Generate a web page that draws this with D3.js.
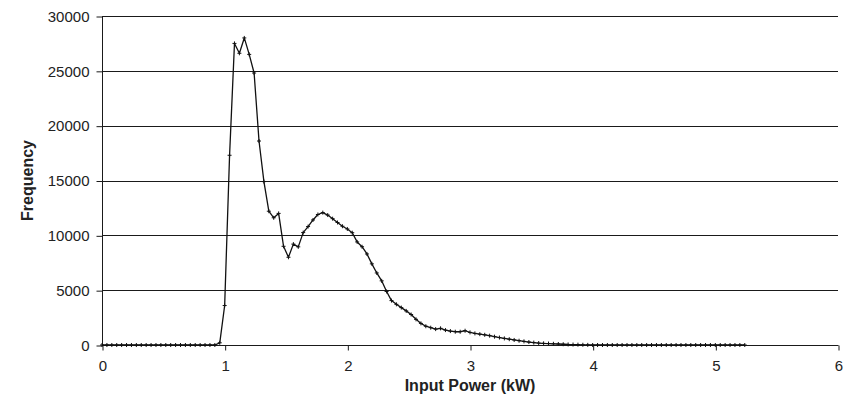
<!DOCTYPE html>
<html>
<head>
<meta charset="utf-8">
<script src="https://cdn.jsdelivr.net/npm/d3@7"></script>
<style>
  html, body { margin: 0; padding: 0; background: #fff; }
  svg { display: block; }
  text { font-family: Arial, "Liberation Sans", sans-serif; fill: #222; }
</style>
</head>
<body>
<svg id="chart" width="850" height="409"></svg>
<script>
// Histogram of input power, sampled in 0.04 kW bins starting at 0 kW
const binWidth = 0.04;
const frequency = [
  // 0.00 – 0.92 kW
  0, 0, 0, 0, 0, 0, 0, 0, 0, 0, 0, 0, 0, 0, 0, 0, 0, 0, 0, 0, 0, 0, 0, 0,
  // 0.96 – 1.56 kW
  200, 3600, 17300, 27500, 26600, 28000, 26500, 24800, 18600, 14900, 12200, 11600, 12000, 9000, 8000, 9200,
  // 1.60 – 2.20 kW
  8950, 10250, 10800, 11400, 11900, 12070, 11850, 11520, 11170, 10830, 10580, 10240, 9400, 8960, 8300, 7400,
  // 2.24 – 2.84 kW
  6570, 5850, 4880, 4050, 3710, 3410, 3110, 2780, 2340, 1970, 1710, 1580, 1450, 1520, 1360, 1270,
  // 2.88 – 3.48 kW
  1210, 1210, 1300, 1150, 1060, 990, 930, 850, 760, 680, 600, 530, 460, 390, 330, 270,
  // 3.52 – 3.96 kW
  220, 180, 150, 130, 110, 90, 70, 50, 40, 30, 20, 10,
  // 4.00 – 5.24 kW
  0, 0, 0, 0, 0, 0, 0, 0, 0, 0, 0, 0, 0, 0, 0, 0,
  0, 0, 0, 0, 0, 0, 0, 0, 0, 0, 0, 0, 0, 0, 0, 0
];
const xTicks = [0, 1, 2, 3, 4, 5, 6];
const yTicks = [0, 5000, 10000, 15000, 20000, 25000, 30000];
const xTitle = "Input Power (kW)";
const yTitle = "Frequency";

const points = frequency.map((v, i) => ({ kw: +(i * binWidth).toFixed(2), freq: v }));

const svg = d3.select("#chart");
const plot = { left: 102, right: 838, top: 16, bottom: 345 };

const x = d3.scaleLinear().domain([0, 6]).range([plot.left, plot.right]);
const y = d3.scaleLinear().domain([0, 30000]).range([plot.bottom, plot.top]);

// horizontal gridlines
svg.append("g")
  .selectAll("line")
  .data(yTicks.filter(d => d > 0))
  .join("line")
  .attr("x1", plot.left).attr("x2", plot.right)
  .attr("y1", d => Math.round(y(d)) + 0.5).attr("y2", d => Math.round(y(d)) + 0.5)
  .attr("stroke", "#1a1a1a").attr("stroke-width", 1);

// y axis
const yAxis = svg.append("g")
  .attr("transform", `translate(${plot.left + 0.5},0.5)`)
  .call(d3.axisLeft(y).tickValues(yTicks).tickSize(6).tickPadding(7).tickFormat(d3.format("d")));
yAxis.selectAll("path, line").attr("stroke", "#1a1a1a");
yAxis.select(".domain").attr("d", `M0,${y(30000)}V${y(0)}`);
yAxis.selectAll("text").attr("font-size", 15).attr("fill", "#222")
  .attr("font-family", "Arial, 'Liberation Sans', sans-serif");

// x axis
const xAxis = svg.append("g")
  .attr("transform", `translate(0.5,${plot.bottom + 0.5})`)
  .call(d3.axisBottom(x).tickValues(xTicks).tickSize(5).tickPadding(10).tickFormat(d3.format("d")));
xAxis.selectAll("path, line").attr("stroke", "#1a1a1a");
xAxis.select(".domain").attr("d", `M${x(0)},0H${x(6)}`);
xAxis.selectAll("text").attr("font-size", 15).attr("fill", "#222")
  .attr("font-family", "Arial, 'Liberation Sans', sans-serif");

// series line
const line = d3.line().x(d => x(d.kw)).y(d => y(d.freq));
svg.append("path")
  .datum(points)
  .attr("d", line)
  .attr("fill", "none")
  .attr("stroke", "#111")
  .attr("stroke-width", 1.3)
  .attr("stroke-linejoin", "round");

// "+" markers at every bin
const arm = 2;
svg.append("g")
  .selectAll("path")
  .data(points)
  .join("path")
  .attr("d", d => {
    const cx = x(d.kw), cy = y(d.freq);
    return `M${cx - arm},${cy}H${cx + arm}M${cx},${cy - arm}V${cy + arm}`;
  })
  .attr("stroke", "#111")
  .attr("stroke-width", 1);

// axis titles
svg.append("text")
  .attr("x", (plot.left + plot.right) / 2).attr("y", 391)
  .attr("text-anchor", "middle")
  .attr("font-size", 16).attr("font-weight", "bold")
  .text(xTitle);

svg.append("text")
  .attr("transform", `translate(33,${(plot.top + plot.bottom) / 2}) rotate(-90)`)
  .attr("text-anchor", "middle")
  .attr("font-size", 16).attr("font-weight", "bold")
  .text(yTitle);
</script>
</body>
</html>
